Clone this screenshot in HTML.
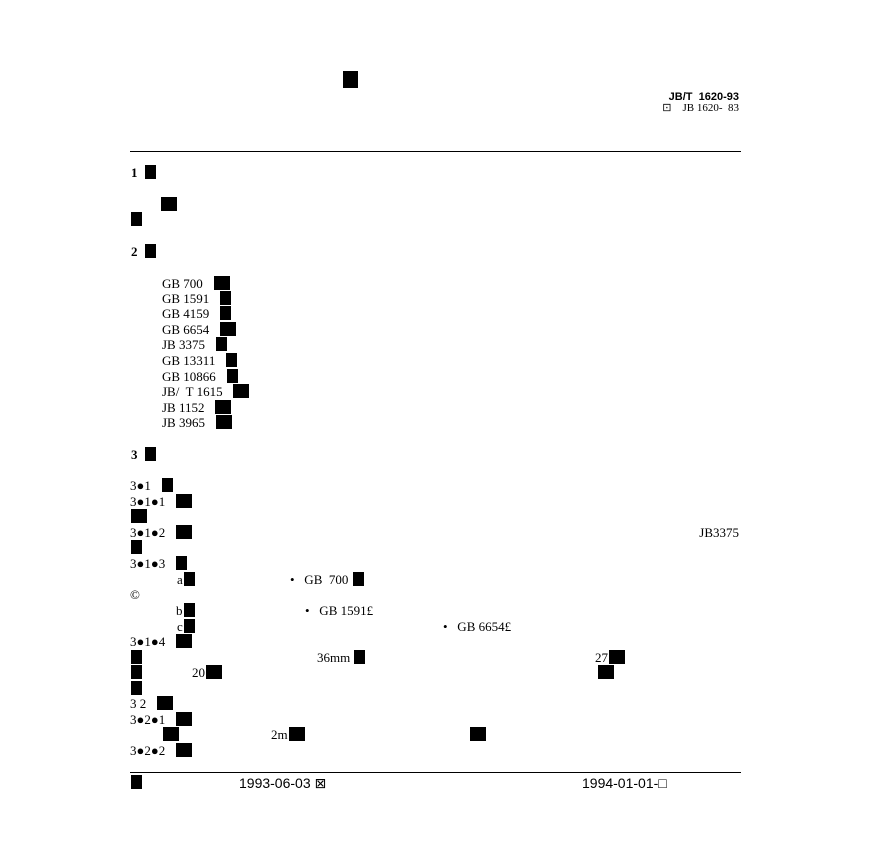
<!DOCTYPE html>
<html><head><meta charset="utf-8"><style>
body{margin:0;background:#fff;width:870px;height:842px;position:relative;overflow:hidden;font-family:"Liberation Serif","Noto Serif CJK SC",serif;font-size:13px;color:#000}
.t{position:absolute;line-height:16px;white-space:pre}
.k{display:inline-block;width:11px;height:14px;background:#000;vertical-align:-2px;margin-left:1px}
.w{width:16px}
.r{position:absolute;height:1px;background:#000;left:130px;width:611px}
.s{font-family:"Liberation Sans","DejaVu Sans",sans-serif}
</style></head><body>
<div class="t" style="left:342px;top:71px"><span class="k" style="width:15px;height:17px"></span></div>
<div class="t s" style="right:131px;top:89px;font-size:11px;font-weight:bold">JB/T  1620-93</div>
<div class="t" style="right:131px;top:100px;font-size:11px">⊡    JB 1620-  83</div>
<div class="r" style="top:151px"></div>
<div class="t" style="left:131px;top:165px;font-weight:bold">1  <span class="k"></span></div>
<div class="t" style="left:160px;top:197px"><span class="k w"></span></div>
<div class="t" style="left:130px;top:212px"><span class="k"></span></div>
<div class="t" style="left:131px;top:244px;font-weight:bold">2  <span class="k"></span></div>
<div class="t" style="left:162px;top:276px">GB 700   <span class="k w"></span></div>
<div class="t" style="left:162px;top:291px">GB 1591   <span class="k"></span></div>
<div class="t" style="left:162px;top:306px">GB 4159   <span class="k"></span></div>
<div class="t" style="left:162px;top:322px">GB 6654   <span class="k w"></span></div>
<div class="t" style="left:162px;top:337px">JB 3375   <span class="k"></span></div>
<div class="t" style="left:162px;top:353px">GB 13311   <span class="k"></span></div>
<div class="t" style="left:162px;top:369px">GB 10866   <span class="k"></span></div>
<div class="t" style="left:162px;top:384px">JB/  T 1615   <span class="k w"></span></div>
<div class="t" style="left:162px;top:400px">JB 1152   <span class="k w"></span></div>
<div class="t" style="left:162px;top:415px">JB 3965   <span class="k w"></span></div>
<div class="t" style="left:131px;top:447px;font-weight:bold">3  <span class="k"></span></div>
<div class="t" style="left:130px;top:478px">3●1   <span class="k"></span></div>
<div class="t" style="left:130px;top:494px">3●1●1   <span class="k w"></span></div>
<div class="t" style="left:130px;top:509px"><span class="k w"></span></div>
<div class="t" style="left:130px;top:525px">3●1●2   <span class="k w"></span></div>
<div class="t" style="right:131px;top:525px">JB3375</div>
<div class="t" style="left:130px;top:540px"><span class="k"></span></div>
<div class="t" style="left:130px;top:556px">3●1●3   <span class="k"></span></div>
<div class="t" style="left:177px;top:572px">a<span class="k"></span></div>
<div class="t" style="left:290px;top:572px">•   GB  700 <span class="k"></span></div>
<div class="t" style="left:130px;top:587px">©</div>
<div class="t" style="left:176px;top:603px">b<span class="k"></span></div>
<div class="t" style="left:305px;top:603px">•   GB 1591£</div>
<div class="t" style="left:177px;top:619px">c<span class="k"></span></div>
<div class="t" style="left:443px;top:619px">•   GB 6654£</div>
<div class="t" style="left:130px;top:634px">3●1●4   <span class="k w"></span></div>
<div class="t" style="left:130px;top:650px"><span class="k"></span></div>
<div class="t" style="left:317px;top:650px">36mm <span class="k"></span></div>
<div class="t" style="left:595px;top:650px">27<span class="k w"></span></div>
<div class="t" style="left:130px;top:665px"><span class="k"></span></div>
<div class="t" style="left:192px;top:665px">20<span class="k w"></span></div>
<div class="t" style="left:597px;top:665px"><span class="k w"></span></div>
<div class="t" style="left:130px;top:681px"><span class="k"></span></div>
<div class="t" style="left:130px;top:696px">3 2   <span class="k w"></span></div>
<div class="t" style="left:130px;top:712px">3●2●1   <span class="k w"></span></div>
<div class="t" style="left:162px;top:727px"><span class="k w"></span></div>
<div class="t" style="left:271px;top:727px">2m<span class="k w"></span></div>
<div class="t" style="left:469px;top:727px"><span class="k w"></span></div>
<div class="t" style="left:130px;top:743px">3●2●2   <span class="k w"></span></div>
<div class="r" style="top:772px"></div>
<div class="t" style="left:130px;top:775px"><span class="k"></span></div>
<div class="t s" style="left:239px;top:775px;font-size:14px">1993-06-03 ⊠</div>
<div class="t s" style="left:582px;top:775px;font-size:14px">1994-01-01-□</div>
</body></html>
